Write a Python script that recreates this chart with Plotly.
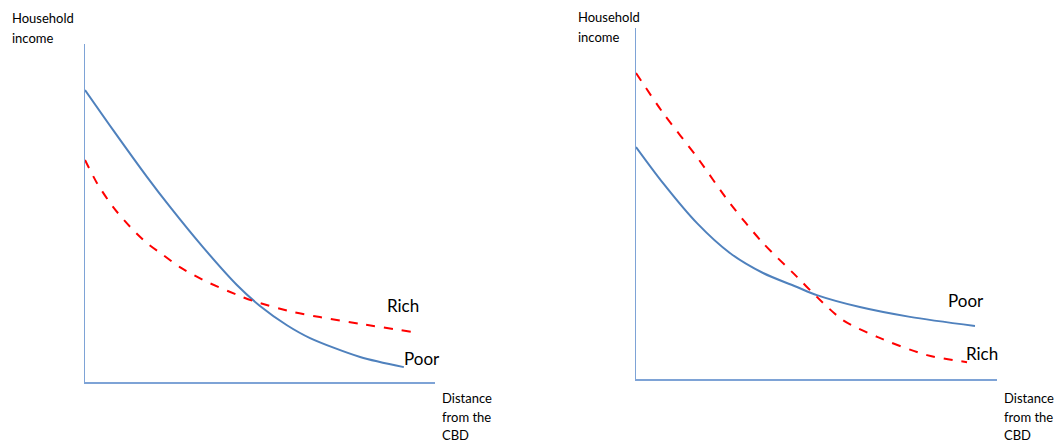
import plotly.graph_objects as go

W, H = 1057, 443

# Left panel: distance (0-10) vs household income (0-10)
left_poor_x = [0, 0.80, 1.77, 2.43, 3.37, 4.34, 5.00, 5.77, 6.43, 7.86, 9.11]
left_poor_y = [8.64, 7.46, 6.07, 5.18, 3.99, 2.87, 2.25, 1.68, 1.30, 0.74, 0.44]
left_rich_x = [0, 0.34, 0.80, 1.29, 1.77, 2.23, 2.71, 3.37, 4.34, 4.80, 5.94, 6.71, 7.86, 9.37]
left_rich_y = [6.57, 5.89, 5.18, 4.59, 4.11, 3.76, 3.40, 3.02, 2.58, 2.40, 2.07, 1.92, 1.72, 1.48]

# Right panel
right_poor_x = [0, 0.75, 1.69, 2.60, 3.52, 4.46, 5.01, 6.20, 7.59, 9.39]
right_poor_y = [6.61, 5.58, 4.44, 3.59, 3.02, 2.62, 2.39, 2.05, 1.77, 1.51]
right_rich_x = [0, 0.75, 1.69, 2.60, 3.52, 4.46, 5.01, 5.73, 6.68, 8.06, 9.17]
right_rich_y = [8.72, 7.58, 6.32, 5.01, 3.87, 2.91, 2.34, 1.68, 1.20, 0.68, 0.48]

y_title_lines = ["Household", "income"]
x_title_lines = ["Distance", "from the", "CBD"]

BLUE = "#4f81bd"
RED = "#ff0000"
AXIS = "#7ea3d6"
FONT = "Lato, Open Sans, sans-serif"

def px(x):
    return x / W

def py(y):
    return 1 - y / H

fig = go.Figure()

sp = dict(shape="spline", smoothing=0.8, width=2)
fig.add_trace(go.Scatter(x=left_poor_x, y=left_poor_y, mode="lines", line=dict(sp, color=BLUE), xaxis="x", yaxis="y", hoverinfo="skip"))
fig.add_trace(go.Scatter(x=left_rich_x, y=left_rich_y, mode="lines", line=dict(sp, color=RED, dash="dash"), xaxis="x", yaxis="y", hoverinfo="skip"))
fig.add_trace(go.Scatter(x=right_poor_x, y=right_poor_y, mode="lines", line=dict(sp, color=BLUE), xaxis="x2", yaxis="y2", hoverinfo="skip"))
fig.add_trace(go.Scatter(x=right_rich_x, y=right_rich_y, mode="lines", line=dict(sp, color=RED, dash="dash"), xaxis="x2", yaxis="y2", hoverinfo="skip"))

ax = dict(showgrid=False, zeroline=False, showticklabels=False, ticks="",
          showline=True, linecolor=AXIS, linewidth=1.5, range=[0, 10], fixedrange=True)

fig.update_layout(
    width=W, height=H,
    margin=dict(l=0, r=0, t=0, b=0),
    paper_bgcolor="white", plot_bgcolor="white",
    showlegend=False,
    font=dict(family=FONT, color="black"),
    xaxis=dict(ax, domain=[px(85), px(435)], anchor="y"),
    yaxis=dict(ax, domain=[py(382), py(44)], anchor="x"),
    xaxis2=dict(ax, domain=[px(636), px(997)], anchor="y2"),
    yaxis2=dict(ax, domain=[py(379), py(28)], anchor="x2"),
)

ann = []
def text_block(lines, x0, y0, step, size=13):
    for i, t in enumerate(lines):
        ann.append(dict(text=t, x=px(x0), y=py(y0 + i * step), xref="paper", yref="paper",
                        xanchor="left", yanchor="middle", align="left", showarrow=False,
                        font=dict(size=size)))

text_block(y_title_lines, 10, 18, 20)
text_block(y_title_lines, 576, 17, 20)
text_block(x_title_lines, 440, 398, 18.5)
text_block(x_title_lines, 1002, 398, 18.5)

# curve labels
ann.append(dict(text="Rich", x=9.09, y=2.25, xref="x", yref="y", showarrow=False, font=dict(size=17)))
ann.append(dict(text="Poor", x=9.63, y=0.71, xref="x", yref="y", showarrow=False, font=dict(size=17)))
ann.append(dict(text="Poor", x=9.14, y=2.25, xref="x2", yref="y2", showarrow=False, font=dict(size=17)))
ann.append(dict(text="Rich", x=9.58, y=0.74, xref="x2", yref="y2", showarrow=False, font=dict(size=17)))
fig.update_layout(annotations=ann)

fig.write_html("out.html", config={"displayModeBar": False, "staticPlot": True},
               post_script="document.body.style.margin='0px';")
